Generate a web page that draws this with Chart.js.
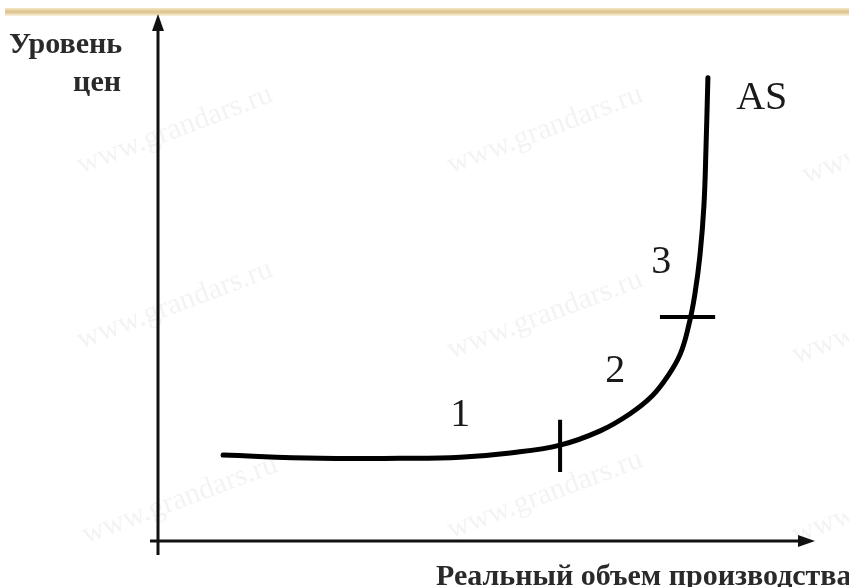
<!DOCTYPE html>
<html>
<head>
<meta charset="utf-8">
<script src="https://cdn.jsdelivr.net/npm/chart.js@4/dist/chart.umd.min.js"></script>
<style>
  html, body { margin: 0; padding: 0; background: #fff; }
  canvas { display: block; }
</style>
</head>
<body>
<canvas id="asChart" width="849" height="587"></canvas>
<script>
// AS curve, in chart units (x: real output, y: price level), 0..100 on both axes
const curveX = [9.9, 24.7, 36.8, 46.0, 53.6, 61.2, 67.3, 71.8, 75.2, 77.6, 79.5, 80.8, 81.7, 82.5, 83.1, 83.4, 83.7];
const curveY = [16.3, 15.7, 15.7, 15.9, 16.7, 18.2, 20.9, 24.1, 27.5, 31.3, 35.5, 41.0, 46.7, 54.3, 63.8, 74.2, 87.9];

// segment boundaries (short ticks across the curve)
const tick1X = [61.2, 61.2];
const tick1Y = [23.0, 13.1];
const tick2X = [76.4, 84.8];
const tick2Y = [42.5, 42.5];

// zone labels
const zoneLabels = ['1', '2', '3', 'AS'];
const zoneX = [46.0, 69.6, 76.6, 91.9];
const zoneY = [23.9, 32.1, 52.9, 83.9];

const yTitle = ['Уровень', 'цен'];
const xTitle = 'Реальный объем производства';
const watermark = 'www.grandars.ru';

function toPoints(xs, ys) {
    return xs.map((x, i) => ({ x: x, y: ys[i] }));
}

const decorPlugin = {
    id: 'decor',
    beforeDraw(chart) {
        const ctx = chart.ctx;
        ctx.save();
        ctx.fillStyle = '#fff';
        ctx.fillRect(0, 0, chart.width, chart.height);

        // golden strip at the top
        const g = ctx.createLinearGradient(0, 8, 0, 16);
        g.addColorStop(0, '#f3e6c4');
        g.addColorStop(0.5, '#dcc08a');
        g.addColorStop(1, '#fbf4e2');
        ctx.fillStyle = g;
        ctx.fillRect(5, 8, chart.width - 5, 8);

        // faint watermarks
        ctx.fillStyle = 'rgba(120,120,120,0.09)';
        ctx.font = '30px "Liberation Serif", serif';
        ctx.textAlign = 'center';
        ctx.textBaseline = 'middle';
        [[175, 130], [545, 130], [900, 140], [175, 305], [545, 315], [890, 320], [180, 500], [545, 495], [890, 500]].forEach(p => {
            ctx.save();
            ctx.translate(p[0], p[1]);
            ctx.rotate(-0.36);
            ctx.fillText(watermark, 0, 0);
            ctx.restore();
        });
        ctx.restore();
    },
    afterDraw(chart) {
        const ctx = chart.ctx;
        const xs = chart.scales.x, ys = chart.scales.y;
        const x0 = xs.getPixelForValue(0), x1 = xs.getPixelForValue(100);
        const y0 = ys.getPixelForValue(0), y1 = ys.getPixelForValue(100);
        ctx.save();
        ctx.strokeStyle = '#111';
        ctx.fillStyle = '#111';
        ctx.lineWidth = 3;

        // axes
        ctx.beginPath();
        ctx.moveTo(x0, y0 + 14);
        ctx.lineTo(x0, y1 + 14);
        ctx.moveTo(x0 - 8, y0);
        ctx.lineTo(x1 - 14, y0);
        ctx.stroke();

        // arrow heads
        ctx.beginPath();
        ctx.moveTo(x0, y1);
        ctx.lineTo(x0 - 6, y1 + 17);
        ctx.lineTo(x0 + 6, y1 + 17);
        ctx.closePath();
        ctx.fill();
        ctx.beginPath();
        ctx.moveTo(x1, y0);
        ctx.lineTo(x1 - 17, y0 - 6);
        ctx.lineTo(x1 - 17, y0 + 6);
        ctx.closePath();
        ctx.fill();

        // zone labels
        ctx.font = '40px "Liberation Serif", serif';
        ctx.textAlign = 'center';
        ctx.textBaseline = 'middle';
        ctx.fillStyle = '#1a1a1a';
        zoneLabels.forEach((t, i) => {
            ctx.fillText(t, xs.getPixelForValue(zoneX[i]), ys.getPixelForValue(zoneY[i]));
        });

        // axis titles
        ctx.font = 'bold 30px "Liberation Serif", serif';
        ctx.fillStyle = '#2a2a2a';
        ctx.textBaseline = 'alphabetic';
        ctx.textAlign = 'left';
        ctx.fillText(yTitle[0], 9, 53);
        ctx.textAlign = 'right';
        ctx.fillText(yTitle[1], 121, 91);
        ctx.textAlign = 'left';
        ctx.fillText(xTitle, 436, 585);
        ctx.restore();
    }
};

const lineStyle = { borderColor: '#000', pointRadius: 0, fill: false, showLine: true };

new Chart(document.getElementById('asChart').getContext('2d'), {
    type: 'scatter',
    data: {
        datasets: [
            Object.assign({ label: 'AS', data: toPoints(curveX, curveY), borderWidth: 5, tension: 0.4, borderCapStyle: 'round' }, lineStyle),
            Object.assign({ label: 'tick1', data: toPoints(tick1X, tick1Y), borderWidth: 4 }, lineStyle),
            Object.assign({ label: 'tick2', data: toPoints(tick2X, tick2Y), borderWidth: 4 }, lineStyle)
        ]
    },
    options: {
        responsive: false,
        animation: false,
        layout: { padding: { left: 158, right: 34, top: 14, bottom: 46 } },
        plugins: { legend: { display: false }, tooltip: { enabled: false } },
        scales: {
            x: { type: 'linear', min: 0, max: 100, display: false },
            y: { type: 'linear', min: 0, max: 100, display: false }
        }
    },
    plugins: [decorPlugin]
});
</script>
</body>
</html>
